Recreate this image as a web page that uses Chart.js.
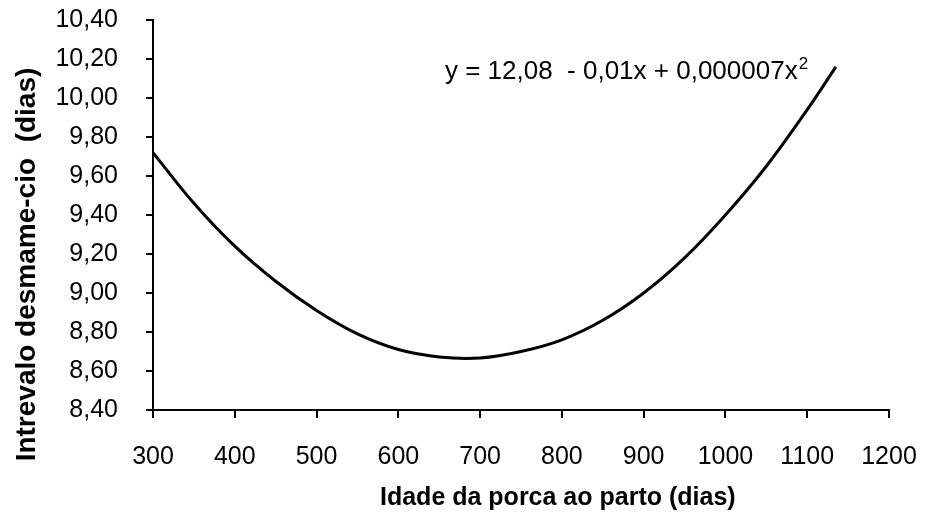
<!DOCTYPE html>
<html>
<head>
<meta charset="utf-8">
<script src="https://cdn.jsdelivr.net/npm/chart.js@4"></script>
<style>
  body { margin: 0; background: #fff; }
  #wrap { width: 926px; height: 516px; position: relative; }
</style>
</head>
<body>
<div id="wrap"><canvas id="myChart"></canvas></div>
<script>
// values
const ages = [300, 350, 400, 450, 500, 550, 600, 650, 700, 750, 800, 850, 900, 950, 1000, 1050, 1100, 1135];
const intervals = [9.72, 9.46, 9.24, 9.06, 8.91, 8.79, 8.71, 8.672, 8.667, 8.70, 8.76, 8.86, 9.00, 9.18, 9.40, 9.65, 9.94, 10.16];
const xTicks = [300, 400, 500, 600, 700, 800, 900, 1000, 1100, 1200];
const yTicks = [8.4, 8.6, 8.8, 9.0, 9.2, 9.4, 9.6, 9.8, 10.0, 10.2, 10.4];
const equation = 'y = 12,08  - 0,01x + 0,000007x';
const xTitle = 'Idade da porca ao parto (dias)';
const yTitle = 'Intrevalo desmame-cio  (dias)';

const FONT = 'Arial, "Liberation Sans", sans-serif';
Chart.defaults.font.family = FONT;
Chart.defaults.color = '#000';

const points = ages.map((a, i) => ({x: a, y: intervals[i]}));

// equation (with superscript) and both axis titles, which are not centred on the axes
const textPlugin = {
  id: 'texts',
  afterDraw(chart) {
    const ctx = chart.ctx;
    const area = chart.chartArea;
    const px = chart.scales.x.getPixelForValue(657);
    const py = chart.scales.y.getPixelForValue(10.10);
    ctx.save();
    ctx.fillStyle = '#000';
    ctx.textBaseline = 'alphabetic';
    ctx.font = '26px ' + FONT;
    ctx.fillText(equation, px, py);
    const w = ctx.measureText(equation).width;
    ctx.font = '17px ' + FONT;
    ctx.fillText('2', px + w + 1, py - 10);

    ctx.textAlign = 'center';
    ctx.textBaseline = 'middle';
    ctx.font = 'bold 25px ' + FONT;
    ctx.fillText(xTitle, chart.scales.x.getPixelForValue(795), 498);

    ctx.translate(27, area.top + (area.bottom - area.top) * 0.627);
    ctx.rotate(-Math.PI / 2);
    ctx.font = 'bold 28px ' + FONT;
    ctx.fillText(yTitle, 0, 0);
    ctx.restore();
  }
};

const config = {
  type: 'line',
  data: {
    datasets: [{
      data: points,
      borderColor: '#000',
      borderWidth: 3,
      pointRadius: 0,
      fill: false,
      tension: 0.4
    }]
  },
  options: {
    responsive: true,
    maintainAspectRatio: false,
    animation: false,
    layout: { padding: { left: 0, right: 37, top: 20, bottom: 3 } },
    plugins: { legend: { display: false }, tooltip: { enabled: false } },
    scales: {
      x: {
        type: 'linear',
        min: 300,
        max: 1200,
        afterBuildTicks: (s) => { s.ticks = xTicks.map(v => ({value: v})); },
        afterFit: (s) => {
          s.paddingLeft = 0; s.paddingRight = 0;
          s.height = 103;
        },
        ticks: { font: { size: 25 }, padding: 24, maxRotation: 0, color: '#000', callback: (v) => String(v) },
        grid: { drawOnChartArea: false, tickLength: 8, color: '#000', lineWidth: 2 },
        border: { color: '#000', width: 2 }
      },
      y: {
        min: 8.4,
        max: 10.4,
        afterBuildTicks: (s) => { s.ticks = yTicks.map(v => ({value: v})); },
        afterFit: (s) => {
          s.paddingTop = 0; s.paddingBottom = 0;
          s.width = 153;
        },
        ticks: {
          font: { size: 25 },
          padding: 28,
          color: '#000',
          callback: (v) => v.toFixed(2).replace('.', ',')
        },
        grid: { drawOnChartArea: false, tickLength: 7, color: '#000', lineWidth: 2 },
        border: { color: '#000', width: 2 }
      }
    }
  },
  plugins: [textPlugin]
};

const myChart = new Chart(document.getElementById('myChart'), config);
</script>
</body>
</html>
